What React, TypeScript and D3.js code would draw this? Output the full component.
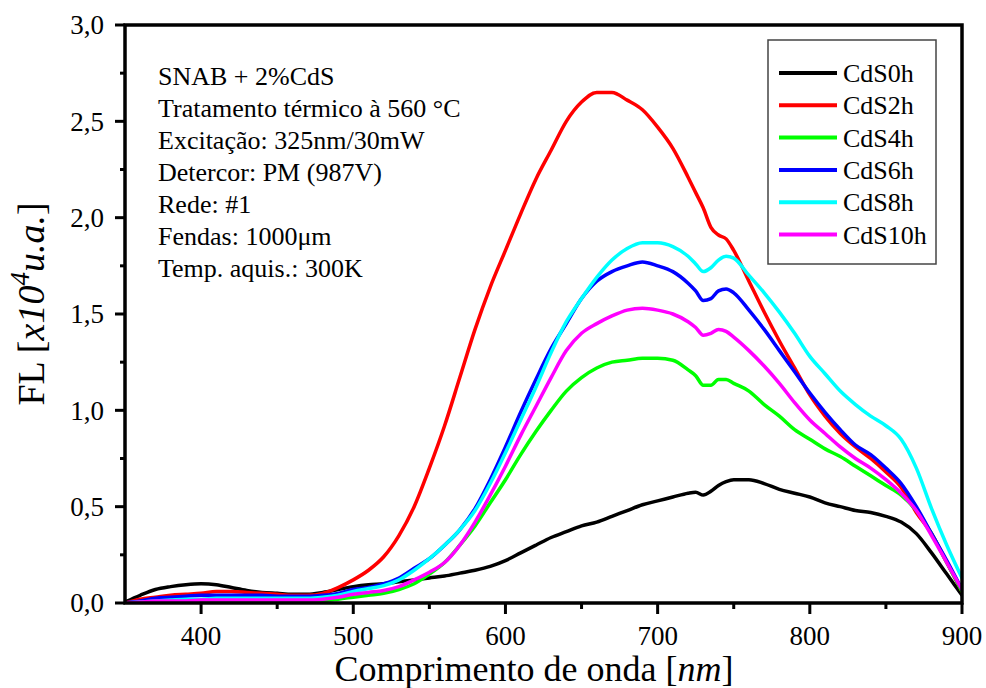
import React from 'react';
import * as d3 from 'd3';

const wavelengths = [350,360,370,380,390,400,410,420,430,440,450,460,470,480,490,500,510,520,530,540,550,560,570,580,590,600,610,620,630,640,650,660,670,680,690,700,710,720,725,730,735,740,745,750,760,770,780,790,800,810,820,830,840,850,860,870,880,890,900];

const cds0h = [0.005,0.04,0.07,0.085,0.095,0.10,0.095,0.08,0.065,0.055,0.05,0.045,0.045,0.055,0.07,0.085,0.095,0.10,0.11,0.12,0.13,0.14,0.155,0.17,0.19,0.22,0.26,0.30,0.34,0.37,0.40,0.42,0.45,0.48,0.51,0.53,0.55,0.57,
  0.575,0.56,0.58,0.61,0.63,0.64,
  0.64,0.62,0.59,0.57,0.55,0.52,0.50,0.48,0.47,0.45,0.42,0.36,0.26,0.15,0.04];
const cds2h = [0.00,0.02,0.03,0.04,0.045,0.05,0.06,0.06,0.055,0.05,0.045,0.04,0.04,0.05,0.08,0.12,0.17,0.24,0.35,0.50,0.70,0.92,1.17,1.42,1.64,1.83,2.02,2.20,2.35,2.50,2.60,2.65,2.65,2.61,2.56,2.47,2.36,2.21,
  2.13,2.05,1.95,1.91,1.89,1.83,
  1.67,1.51,1.36,1.22,1.08,0.97,0.88,0.81,0.75,0.68,0.60,0.47,0.36,0.21,0.06];
const cds4h = [0.00,0.005,0.008,0.01,0.01,0.01,0.01,0.01,0.01,0.01,0.01,0.01,0.01,0.012,0.02,0.03,0.04,0.05,0.07,0.10,0.15,0.21,0.30,0.40,0.52,0.64,0.77,0.89,1.00,1.10,1.17,1.22,1.25,1.26,1.27,1.27,1.26,1.21,
  1.18,1.13,1.13,1.16,1.16,1.14,
  1.10,1.03,0.97,0.90,0.85,0.80,0.76,0.71,0.66,0.61,0.56,0.48,0.36,0.21,0.06];
const cds6h = [0.00,0.01,0.025,0.03,0.035,0.04,0.04,0.04,0.04,0.04,0.035,0.035,0.035,0.04,0.05,0.07,0.08,0.10,0.13,0.18,0.23,0.30,0.38,0.49,0.64,0.81,0.99,1.16,1.32,1.45,1.58,1.67,1.72,1.75,1.77,1.75,1.72,1.66,
  1.62,1.57,1.58,1.62,1.63,1.61,
  1.52,1.42,1.31,1.20,1.09,0.99,0.90,0.82,0.77,0.70,0.62,0.50,0.36,0.22,0.07];
const cds8h = [0.00,0.005,0.01,0.015,0.02,0.02,0.025,0.025,0.025,0.025,0.025,0.025,0.025,0.03,0.04,0.06,0.075,0.09,0.12,0.17,0.23,0.30,0.38,0.48,0.62,0.78,0.95,1.12,1.30,1.46,1.58,1.69,1.78,1.84,1.87,1.87,1.85,1.80,
  1.76,1.72,1.74,1.78,1.80,1.79,
  1.70,1.61,1.51,1.40,1.28,1.19,1.10,1.03,0.97,0.92,0.85,0.70,0.49,0.30,0.13];
const cds10h = [0.00,0.005,0.01,0.01,0.01,0.015,0.015,0.015,0.015,0.015,0.015,0.015,0.015,0.02,0.03,0.045,0.055,0.065,0.085,0.12,0.16,0.21,0.30,0.42,0.56,0.71,0.87,1.02,1.17,1.31,1.40,1.45,1.49,1.52,1.53,1.52,1.50,1.46,
  1.43,1.39,1.40,1.42,1.41,1.38,
  1.31,1.23,1.14,1.04,0.95,0.88,0.81,0.75,0.70,0.64,0.57,0.48,0.35,0.21,0.07];

const seriesNames = ['CdS0h', 'CdS2h', 'CdS4h', 'CdS6h', 'CdS8h', 'CdS10h'];
const seriesValues = [cds0h, cds2h, cds4h, cds6h, cds8h, cds10h];
const seriesColors = ['#000000', '#ff0000', '#00ff00', '#0000ff', '#00ffff', '#ff00ff'];

const xTicks = [400, 500, 600, 700, 800, 900];
const xMinorTicks = [450, 550, 650, 750, 850];
const yTicks = [0, 0.5, 1.0, 1.5, 2.0, 2.5, 3.0];
const yMinorTicks = [0.25, 0.75, 1.25, 1.75, 2.25, 2.75];

const infoLines = [
  'SNAB + 2%CdS',
  'Tratamento térmico à 560 °C',
  'Excitação: 325nm/30mW',
  'Detercor: PM (987V)',
  'Rede: #1',
  'Fendas: 1000μm',
  'Temp. aquis.: 300K',
];

const W = 986;
const H = 688;
const left = 125, right = 962, top = 25, bottom = 603;
const FONT = "'Liberation Serif', 'Times New Roman', serif";

export default function App() {
  const x = d3.scaleLinear().domain([350, 900]).range([left, right]);
  const y = d3.scaleLinear().domain([0, 3]).range([bottom, top]);
  const fmt = (v: number) => d3.format('.1f')(v).replace('.', ',');

  const line = d3.line<[number, number]>()
    .x(d => x(d[0]))
    .y(d => y(d[1]))
    .curve(d3.curveMonotoneX);

  const legendX = 768, legendY = 40, legendW = 168, legendH = 224;

  return (
    <svg width={W} height={H} style={{ position: 'absolute', left: 0, top: 0, background: '#fff' }} fontFamily={FONT}>
      <defs>
        <clipPath id="plotclip">
          <rect x={left} y={top} width={right - left} height={bottom - top} />
        </clipPath>
      </defs>
      <rect x={0} y={0} width={W} height={H} fill="#fff" />

      {/* series */}
      <g clipPath="url(#plotclip)">
        {seriesValues.map((vals, i) => (
          <path key={seriesNames[i]}
            d={line(wavelengths.map((w, j) => [w, vals[j]] as [number, number])) || ''}
            fill="none" stroke={seriesColors[i]} strokeWidth={3.5} strokeLinejoin="round" strokeLinecap="round" />
        ))}
      </g>

      {/* frame */}
      <rect x={left} y={top} width={right - left} height={bottom - top} fill="none" stroke="#000" strokeWidth={3.5} />

      {/* y ticks */}
      {yTicks.map(t => (
        <g key={'y' + t}>
          <line x1={left - 10} x2={left} y1={y(t)} y2={y(t)} stroke="#000" strokeWidth={3} />
          <text x={left - 21} y={y(t)} dy="0.35em" textAnchor="end" fontSize={27}>{fmt(t)}</text>
        </g>
      ))}
      {yMinorTicks.map(t => (
        <line key={'ym' + t} x1={left - 5} x2={left} y1={y(t)} y2={y(t)} stroke="#000" strokeWidth={3} />
      ))}

      {/* x ticks */}
      {xTicks.map(t => (
        <g key={'x' + t}>
          <line x1={x(t)} x2={x(t)} y1={bottom} y2={bottom + 11} stroke="#000" strokeWidth={3} />
          <text x={x(t)} y={645} textAnchor="middle" fontSize={27}>{t}</text>
        </g>
      ))}
      {xMinorTicks.map(t => (
        <line key={'xm' + t} x1={x(t)} x2={x(t)} y1={bottom} y2={bottom + 6} stroke="#000" strokeWidth={3} />
      ))}

      {/* axis titles */}
      <text x={534} y={681} textAnchor="middle" fontSize={36}>
        Comprimento de onda [<tspan fontStyle="italic">nm</tspan>]
      </text>
      <text transform={`translate(44,304) rotate(-90)`} textAnchor="middle" fontSize={38}>
        FL [<tspan fontStyle="italic">x10</tspan><tspan fontStyle="italic" fontSize={27} dy={-15}>4</tspan><tspan fontStyle="italic" dy={15}>u.a.</tspan>]
      </text>

      {/* info text */}
      {infoLines.map((s, i) => (
        <text key={s} x={158} y={85 + i * 32} fontSize={26}>{s}</text>
      ))}

      {/* legend */}
      <rect x={legendX} y={legendY} width={legendW} height={legendH} fill="#fff" stroke="#444" strokeWidth={1.5} />
      {seriesNames.map((n, i) => {
        const ly = 73 + i * 32.3;
        return (
          <g key={n}>
            <line x1={779} x2={837} y1={ly} y2={ly} stroke={seriesColors[i]} strokeWidth={4} />
            <text x={843} y={ly} dy="0.35em" fontSize={26}>{n}</text>
          </g>
        );
      })}
    </svg>
  );
}
